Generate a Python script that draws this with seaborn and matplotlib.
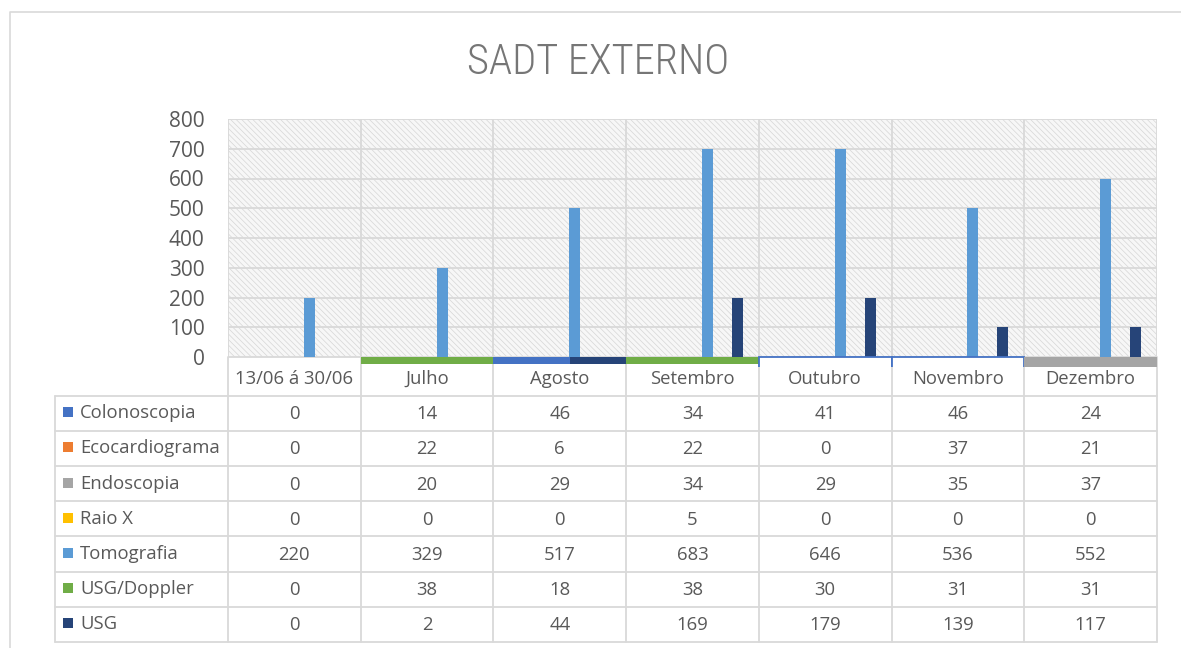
import matplotlib
matplotlib.use("Agg")
import matplotlib.pyplot as plt
from matplotlib.patches import Rectangle
from matplotlib import font_manager
import seaborn as sns
import pandas as pd
import numpy as np

# ---------------- data ----------------
categories = ["13/06 á 30/06", "Julho", "Agosto", "Setembro", "Outubro", "Novembro", "Dezembro"]
series = ["Colonoscopia", "Ecocardiograma", "Endoscopia", "Raio X", "Tomografia", "USG/Doppler", "USG"]
colors = ["#4472C4", "#ED7D31", "#A5A5A5", "#FFC000", "#5B9BD5", "#70AD47", "#264478"]

# table values
colonoscopia = [0, 14, 46, 34, 41, 46, 24]
ecocardiograma = [0, 22, 6, 22, 0, 37, 21]
endoscopia = [0, 20, 29, 34, 29, 35, 37]
raio_x = [0, 0, 0, 5, 0, 0, 0]
tomografia = [220, 329, 517, 683, 646, 536, 552]
usg_doppler = [0, 38, 18, 38, 30, 31, 31]
usg = [0, 2, 44, 169, 179, 139, 117]
table_values = [colonoscopia, ecocardiograma, endoscopia, raio_x, tomografia, usg_doppler, usg]

# bar heights as drawn in the chart
bar_colonoscopia = [0, 0, 0, 0, 0, 0, 0]
bar_ecocardiograma = [0, 0, 0, 0, 0, 0, 0]
bar_endoscopia = [0, 0, 0, 0, 0, 0, 0]
bar_raio_x = [0, 0, 0, 0, 0, 0, 0]
bar_tomografia = [200, 300, 500, 700, 700, 500, 600]
bar_usg_doppler = [0, 0, 0, 0, 0, 0, 0]
bar_usg = [0, 0, 0, 200, 200, 100, 100]
bar_values = [bar_colonoscopia, bar_ecocardiograma, bar_endoscopia, bar_raio_x,
              bar_tomografia, bar_usg_doppler, bar_usg]

# strips drawn along the zero line (series, share of category, depth)
strip_series = [[], ["USG/Doppler"], ["Colonoscopia", "USG"], ["USG/Doppler"],
                ["outline"], ["outline"], ["Endoscopia"]]
strip_share = [[], [1.0], [0.575, 0.425], [1.0], [1.0], [1.0], [1.0]]
strip_depth = [0, 23, 23, 23, 60, 60, 33]

y_ticks = [0, 100, 200, 300, 400, 500, 600, 700, 800]
title = "SADT EXTERNO"

# ---------------- style ----------------
sns.set_theme(style="white")
avail = {f.name for f in font_manager.fontManager.ttflist}
base_font = "Open Sans" if "Open Sans" in avail else "DejaVu Sans"
plt.rcParams["font.family"] = [base_font, "DejaVu Sans"]
plt.rcParams["hatch.linewidth"] = 0.5
title_fonts = [f for f in ["Liberation Sans Narrow", "Roboto Condensed", "DejaVu Sans Condensed"] if f in avail] or ["Liberation Sans"]

W, H = 1181, 648
fig = plt.figure(figsize=(W / 100, H / 100), dpi=100)
fig.patch.set_facecolor("white")

TXT = "#595959"
GRID = "#d9d9d9"

# plot area in pixels
x_left, x_right = 228, 1157
y_top_px, y_zero_px = 119, 357
ymax = 800
scale = (y_zero_px - y_top_px) / ymax
ymin = -34
y_bot_px = y_zero_px - ymin * scale

ax = fig.add_axes([x_left / W, 1 - y_bot_px / H, (x_right - x_left) / W, (y_bot_px - y_top_px) / H])
ax.set_facecolor("none")
for s in ax.spines.values():
    s.set_visible(False)

n = len(categories)

# hatched background
ax.add_patch(Rectangle((-0.5, 0), n, ymax, facecolor="#f7f7f7", edgecolor="#d6d6d6",
                       hatch="\\\\\\\\\\\\", linewidth=0, zorder=0.2))

# grid
for yv in y_ticks:
    ax.plot([-0.5, n - 0.5], [yv, yv], color=GRID, lw=1.3, zorder=1, solid_capstyle="butt")
for i in range(n + 1):
    ax.plot([i - 0.5, i - 0.5], [0, ymax], color=GRID, lw=1.3, zorder=1)

# bars
df = pd.DataFrame([
    {"category": c, "series": s, "value": bar_values[j][i]}
    for j, s in enumerate(series) for i, c in enumerate(categories)
])
sns.barplot(data=df, x="category", y="value", hue="series", order=categories,
            hue_order=series, palette=colors, width=0.79, gap=0.27, linewidth=0,
            legend=False, ax=ax, saturation=1)
for cont in ax.containers:
    for p in cont:
        p.set_zorder(3)

# strips along zero line
col_of = dict(zip(series, colors))
for i in range(n):
    start = i - 0.5
    for s, share in zip(strip_series[i], strip_share[i]):
        d = strip_depth[i]
        if s == "outline":
            ax.bar(start, -d, width=share, align="edge", facecolor="white",
                   edgecolor=col_of["Colonoscopia"], linewidth=1.3, zorder=4)
        else:
            ax.bar(start, -d, width=share, align="edge", color=col_of[s], linewidth=0, zorder=4)
        start += share

ax.set_xlim(-0.5, n - 0.5)
ax.set_ylim(ymin, ymax)
ax.set_yticks(y_ticks)
ax.set_yticklabels([str(v) for v in y_ticks], fontsize=15, color=TXT)
ax.tick_params(axis="y", length=0, pad=17)
ax.set_xticks([])
ax.set_xlabel("")
ax.set_ylabel("")

# ---------------- table overlay ----------------
tax = fig.add_axes([0, 0, 1, 1], zorder=-1)
tax.set_xlim(0, W)
tax.set_ylim(H, 0)
tax.axis("off")

col_w = (x_right - x_left) / n
lab_left = 55
head_top, head_bot = y_zero_px, 395.5
row_h = (642 - head_bot) / len(series)
table_bot = head_bot + row_h * len(series)

for i in range(n + 1):
    xv = x_left + i * col_w
    tax.plot([xv, xv], [head_top, table_bot], color=GRID, lw=1.3)
tax.plot([lab_left, lab_left], [head_bot, table_bot], color=GRID, lw=1.3)
for k in range(len(series) + 1):
    yv = head_bot + k * row_h
    tax.plot([lab_left, x_right], [yv, yv], color=GRID, lw=1.3)

for i, c in enumerate(categories):
    tax.text(x_left + (i + 0.5) * col_w, (head_top + head_bot) / 2 + 3, c,
             ha="center", va="center", fontsize=13.3, color=TXT)

for k, s in enumerate(series):
    yc = head_bot + (k + 0.5) * row_h
    tax.add_patch(Rectangle((63, yc - 6), 10, 10, facecolor=colors[k], edgecolor="none"))
    tax.text(80, yc, s, ha="left", va="center", fontsize=13.3, color=TXT)
    for i in range(n):
        tax.text(x_left + (i + 0.5) * col_w, yc + 1, str(table_values[k][i]),
                 ha="center", va="center", fontsize=13.3, color=TXT)

# outer frame
tax.plot([10, 10, W + 5], [H + 5, 12, 12], color=GRID, lw=1.2)

# title
fig.text(598 / W, 1 - 62 / H, title, ha="center", va="center", fontsize=30.5,
         color="#767676", family=title_fonts, fontweight="light")

fig.savefig("out.png", dpi=100, facecolor="white")
